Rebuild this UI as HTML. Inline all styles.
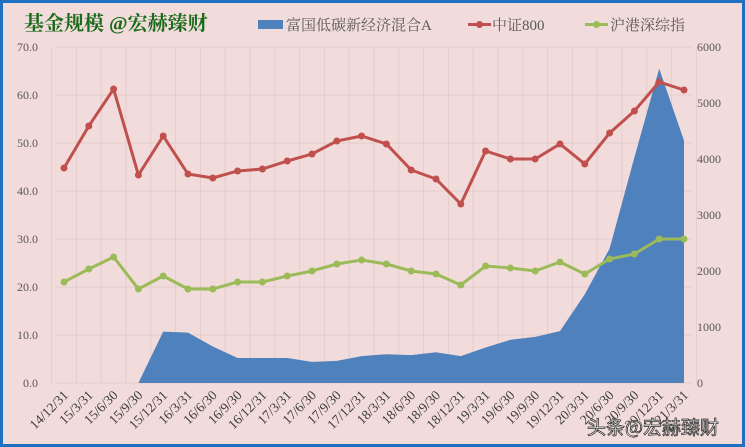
<!DOCTYPE html>
<html><head><meta charset="utf-8"><style>
body{margin:0;background:#fff}
#c{width:745px;height:447px;position:relative;overflow:hidden}
svg text{font-family:"Liberation Serif","Noto Serif CJK SC",serif}
</style></head><body>
<div id="c">
<svg id="s" width="745" height="447" xmlns="http://www.w3.org/2000/svg"></svg>
</div>
<script>
const categories=["14/12/31","15/3/31","15/6/30","15/9/30","15/12/31","16/3/31","16/6/30","16/9/30","16/12/31","17/3/31","17/6/30","17/9/30","17/12/31","18/3/31","18/6/30","18/9/30","18/12/31","19/3/31","19/6/30","19/9/30","19/12/31","20/3/31","20/6/30","20/9/30","20/12/31","21/3/31"];
const fundSize=[0,0,0,0,10.7,10.5,7.6,5.2,5.2,5.2,4.4,4.6,5.6,6.0,5.8,6.4,5.6,7.4,9.0,9.6,10.8,18.5,28,47,65.5,50.5];
const csi800=[3839,4589,5250,3714,4411,3732,3661,3786,3821,3964,4089,4321,4411,4268,3804,3643,3196,4143,4000,4000,4268,3911,4464,4857,5375,5232];
const hkIndex=[1804,2036,2250,1679,1911,1679,1679,1804,1804,1911,2000,2125,2196,2125,2000,1946,1750,2089,2054,2000,2161,1946,2214,2304,2571,2571];
const leftTicks=["0.0","10.0","20.0","30.0","40.0","50.0","60.0","70.0"];
const rightTicks=["0","1000","2000","3000","4000","5000","6000"];
const S=document.getElementById('s'),NS="http://www.w3.org/2000/svg";
const X0=64,X1=684,Y0=383,Y1=47;
const step=(X1-X0)/(categories.length-1);
const x=i=>X0+i*step;
const yL=v=>Y0-(v/70)*(Y0-Y1);
const yR=v=>Y0-(v/6000)*(Y0-Y1);
function mk(t,a,name,txt){const e=document.createElementNS(NS,t);for(const k in a)e.setAttribute(k,a[k]);


if(txt!==undefined)e.textContent=txt;S.appendChild(e);return e;}
mk('rect',{x:1.5,y:1.5,width:742,height:444,fill:'#f2dcdb',stroke:'#1f70c1','stroke-width':3},'chart-background');
for(let i=0;i<=7;i++){mk('line',{x1:X0-8,x2:X1+8,y1:yL(i*10),y2:yL(i*10),stroke:'#e2cccc','stroke-width':1},'h-gridline');
mk('text',{x:38,y:yL(i*10)+4,'font-size':12,fill:'#595959','text-anchor':'end'},'left-tick-label',leftTicks[i]);}
for(let i=0;i<rightTicks.length;i++)mk('text',{x:697,y:yR(i*1000)+4,'font-size':12,fill:'#595959'},'right-tick-label',rightTicks[i]);
for(let i=0;i<=categories.length;i++){const gx=X0-step/2+i*step;mk('line',{x1:gx,x2:gx,y1:Y1,y2:Y0,stroke:'#e2cccc','stroke-width':1},'v-gridline');}
let d=`M${x(3)},${Y0}`;for(let i=3;i<fundSize.length;i++)d+=` L${x(i)},${yL(fundSize[i])}`;d+=` L${x(fundSize.length-1)},${Y0} Z`;
mk('path',{d,fill:'#4f81bd'},'fund-size-area');
function line(arr,col,name){mk('polyline',{points:arr.map((v,i)=>x(i)+','+yR(v)).join(' '),fill:'none',stroke:col,'stroke-width':3},name+'-line');
arr.forEach((v,i)=>mk('circle',{cx:x(i),cy:yR(v),r:3.5,fill:col},name+'-point'));}
line(csi800,'#c0504d','csi800');line(hkIndex,'#9bbb59','hk-index');
categories.forEach((c,i)=>mk('text',{x:x(i)+5,y:Y0+13,'font-size':13.5,fill:'#3a3a3a','text-anchor':'end',transform:`rotate(-45 ${x(i)+5} ${Y0+13})`},'x-tick-label',c));
mk('text',{x:24,y:30,'font-size':20,'font-weight':'bold',fill:'#1a6b1a'},'chart-title','基金规模 @宏赫臻财');
mk('rect',{x:258,y:20,width:25,height:9,fill:'#4f81bd'},'legend-fund-swatch');
mk('text',{x:286,y:30,'font-size':15,fill:'#595959'},'legend-fund-label','富国低碳新经济混合A');
mk('line',{x1:468,x2:491,y1:24.5,y2:24.5,stroke:'#c0504d','stroke-width':3},'legend-csi800-swatch');
mk('circle',{cx:479.5,cy:24.5,r:3.5,fill:'#c0504d'},'legend-csi800-marker');
mk('text',{x:492,y:30,'font-size':15,fill:'#595959'},'legend-csi800-label','中证800');
mk('line',{x1:585,x2:608,y1:24.5,y2:24.5,stroke:'#9bbb59','stroke-width':3},'legend-hk-swatch');
mk('circle',{cx:596.5,cy:24.5,r:3.5,fill:'#9bbb59'},'legend-hk-marker');
mk('text',{x:610,y:30,'font-size':15,fill:'#595959'},'legend-hk-label','沪港深综指');
mk('text',{x:587,y:434,'font-size':19,fill:'#fff',stroke:'#333','stroke-width':0.8,style:'font-family:"Noto Sans CJK SC",sans-serif'},'watermark','头条@宏赫臻财');
</script>
</body></html>
